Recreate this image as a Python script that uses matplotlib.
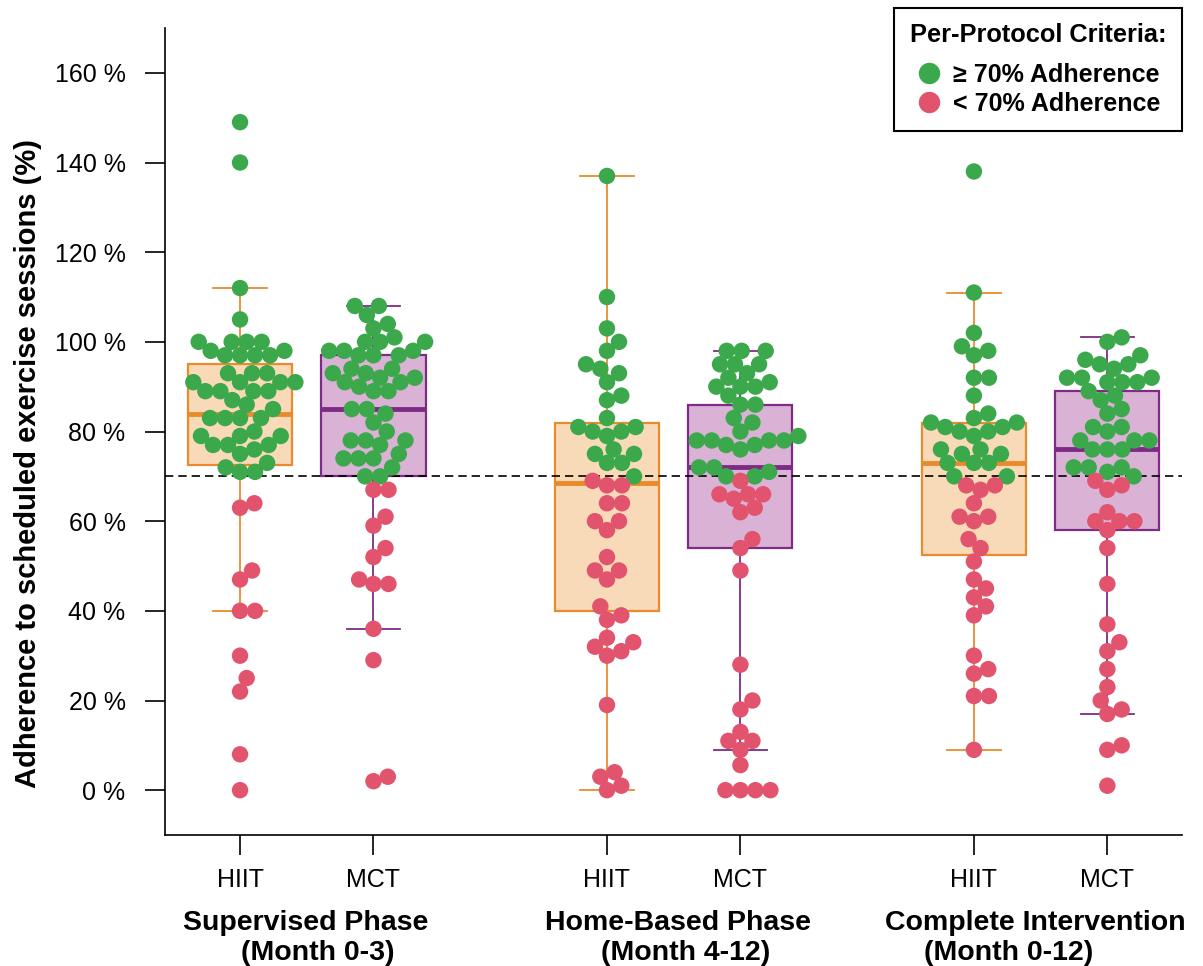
import numpy as np
import matplotlib
matplotlib.use("Agg")
import matplotlib.pyplot as plt
from matplotlib.lines import Line2D

plt.rcParams['font.family'] = ['Liberation Sans', 'DejaVu Sans']

# adherence (% of scheduled sessions) per participant
hiit_sup = [149, 140, 112, 105, 100, 100, 100, 100, 98, 98, 97, 97, 97, 97,
            93, 93, 93, 91, 91, 91, 91, 89, 89, 89, 89, 87, 86, 85, 83, 83,
            83, 83, 80, 79, 79, 79, 77, 77, 77, 76, 75, 73, 72, 71, 71,
            64, 63, 49, 47, 40, 40, 30, 25, 22, 8, 0]
mct_sup = [108, 108, 106, 104, 103, 101, 100, 100, 100, 98, 98, 98, 97, 97,
           97, 94, 94, 93, 93, 92, 92, 91, 91, 90, 89, 89, 85, 85, 84, 82,
           80, 78, 78, 78, 77, 75, 74, 74, 74, 72, 70, 70,
           67, 67, 61, 59, 54, 52, 47, 46, 46, 36, 29, 3, 2]
hiit_home = [137, 110, 103, 100, 98, 95, 94, 93, 91, 88, 87, 83, 81, 81, 80,
             79, 80, 76, 75, 75, 73, 73, 70,
             69, 68, 68, 64, 64, 60, 60, 58, 52, 49, 49, 47, 41, 39, 38, 34,
             33, 32, 31, 30, 19, 4, 3, 1, 0]
mct_home = [98, 98, 98, 95, 95, 95, 93, 92, 91, 90, 90, 90, 88, 86, 86, 83,
            82, 80, 79, 78, 78, 78, 78, 77, 77, 76, 72, 72, 71, 70, 70,
            69, 66, 66, 66, 65, 63, 62, 56, 54, 49, 28, 20, 18, 13, 11, 11,
            9, 5.6, 0, 0, 0, 0]
hiit_all = [138, 111, 102, 99, 98, 97, 92, 92, 88, 84, 83, 82, 81, 80, 79,
            80, 81, 82, 76, 75, 76, 75, 73, 73, 73, 70, 70,
            68, 67, 68, 64, 61, 60, 61, 56, 54, 51, 47, 45, 43, 41, 39, 30,
            27, 26, 21, 21, 9]
mct_all = [101, 100, 97, 96, 95, 94, 95, 92, 92, 91, 91, 91, 92, 89, 88, 87,
           85, 84, 81, 80, 81, 78, 78, 78, 76, 76, 76, 72, 72, 72, 71, 70,
           69, 68, 67, 62, 60, 60, 60, 58, 54, 46, 37, 33, 31, 27, 23, 20,
           18, 17, 10, 9, 1]

data = [hiit_sup, mct_sup, hiit_home, mct_home, hiit_all, mct_all]
arms = ["HIIT", "MCT", "HIIT", "MCT", "HIIT", "MCT"]
positions = [1, 2, 3.75, 4.75, 6.5, 7.5]
phase_titles = ["Supervised Phase", "Home-Based Phase", "Complete Intervention"]
phase_months = ["(Month 0-3)", "(Month 4-12)", "(Month 0-12)"]
title_x = [1.495, 4.28, 6.96]
month_x = [1.58, 4.34, 6.76]
cutoff = 70

green = "#3ba84b"
red = "#e2536d"
arm_style = {"HIIT": ("#e98b2c", "#f8dab9"), "MCT": ("#7e2b86", "#d9b2d6")}


def box_stats(v):
    # Tukey hinges + 1.5 IQR whiskers
    v = np.sort(np.asarray(v, float))
    n = len(v)
    n4 = np.floor((n + 3) / 2) / 2
    d = np.array([1, n4, (n + 1) / 2, n + 1 - n4, n]) - 1
    q = 0.5 * (v[np.floor(d).astype(int)] + v[np.ceil(d).astype(int)])
    iqr = q[3] - q[1]
    return dict(med=q[2], q1=q[1], q3=q[3],
                whislo=v[v >= q[1] - 1.5 * iqr].min(),
                whishi=v[v <= q[3] + 1.5 * iqr].max(), fliers=[])


def swarm(ypix, d):
    # place points one by one (ascending), closest free slot to the centre
    order = np.argsort(ypix, kind="stable")
    xs, ys = [], []
    out = np.zeros(len(ypix))
    for i in order:
        y = ypix[i]
        plus, minus = [], []
        for xj, yj in zip(xs, ys):
            dy = abs(y - yj)
            if dy < d:
                off = np.sqrt(d * d - dy * dy)
                plus.append(xj + off)
                minus.append(xj - off)
        best = None
        for c in [0.0] + plus + minus:
            ok = all((c - xj) ** 2 + (y - yj) ** 2 >= d * d - 1e-6
                     for xj, yj in zip(xs, ys))
            if ok and (best is None or abs(c) < abs(best)):
                best = c
        out[i] = best
        xs.append(best)
        ys.append(y)
    return out


fig = plt.figure(figsize=(12.03, 9.66), dpi=100)
ax = fig.add_axes([0.1372, 0.1356, 0.8454, 0.8354])
ax.set_xlim(0.438, 8.06)
ax.set_ylim(-10, 170)

for vals, arm, pos in zip(data, arms, positions):
    edge, fill = arm_style[arm]
    ax.bxp([box_stats(vals)], positions=[pos], widths=0.78, capwidths=[0.4],
           patch_artist=True, showfliers=False, manage_ticks=False,
           boxprops=dict(facecolor=fill, edgecolor=edge, linewidth=1.6),
           medianprops=dict(color=edge, linewidth=3.5, solid_capstyle="butt"),
           whiskerprops=dict(color=edge, linewidth=1.3),
           capprops=dict(color=edge, linewidth=1.3), zorder=1)

ax.axhline(cutoff, color="black", linestyle=(0, (5, 3)), linewidth=1.2, zorder=2)

# beeswarm in pixel space
fig.canvas.draw()
px_x = ax.transData.transform([(1, 0), (2, 0)])
px_y = ax.transData.transform([(0, 0), (0, 1)])
xscale = px_x[1, 0] - px_x[0, 0]
yscale = px_y[1, 1] - px_y[0, 1]
for vals, pos in zip(data, positions):
    v = np.asarray(vals, float)
    dx = swarm(v * yscale, 15.0) / xscale
    cols = [green if x >= cutoff else red for x in v]
    ax.scatter(pos + dx, v, s=140, c=cols, linewidths=0, zorder=3)

for s in ["top", "right"]:
    ax.spines[s].set_visible(False)
for s in ["left", "bottom"]:
    ax.spines[s].set_linewidth(1.2)

yt = np.arange(0, 161, 20)
ax.set_yticks(yt)
ax.set_yticklabels([f"{t} %" for t in yt], fontsize=18)
ax.set_xticks(positions)
ax.set_xticklabels(arms, fontsize=18)
ax.tick_params(axis="y", length=14.4, width=1.2, pad=14)
ax.tick_params(axis="x", length=14.4, width=1.2, pad=9)

tr = ax.get_xaxis_transform()
for t, m, xt, xm in zip(phase_titles, phase_months, title_x, month_x):
    ax.text(xt, -0.1177, t, transform=tr, ha="center", va="baseline",
            fontsize=20.5, fontweight="bold")
    ax.text(xm, -0.1555, m, transform=tr, ha="center", va="baseline",
            fontsize=20.5, fontweight="bold")

fig.text(28 / 1203, 1 - 463 / 966, "Adherence to scheduled exercise sessions (%)",
         rotation=90, ha="center", va="center", fontsize=21, fontweight="bold")

handles = [Line2D([], [], marker="o", ls="none", color=green, markersize=14.4),
           Line2D([], [], marker="o", ls="none", color=red, markersize=14.4)]
leg = ax.legend(handles, ["\u2265 70% Adherence", "< 70% Adherence"],
                title="Per-Protocol Criteria:", loc="upper right",
                bbox_to_anchor=(1.0, 1.025), borderaxespad=0, frameon=True,
                fancybox=False, edgecolor="black", framealpha=1,
                prop=dict(weight="bold", size=18),
                title_fontproperties=dict(weight="bold", size=18.3),
                handlelength=1.0, handletextpad=0.45, labelspacing=0.2,
                borderpad=0.62)
leg._legend_box.sep = 11
leg.get_frame().set_linewidth(1.5)

fig.savefig("out.png", dpi=100)
